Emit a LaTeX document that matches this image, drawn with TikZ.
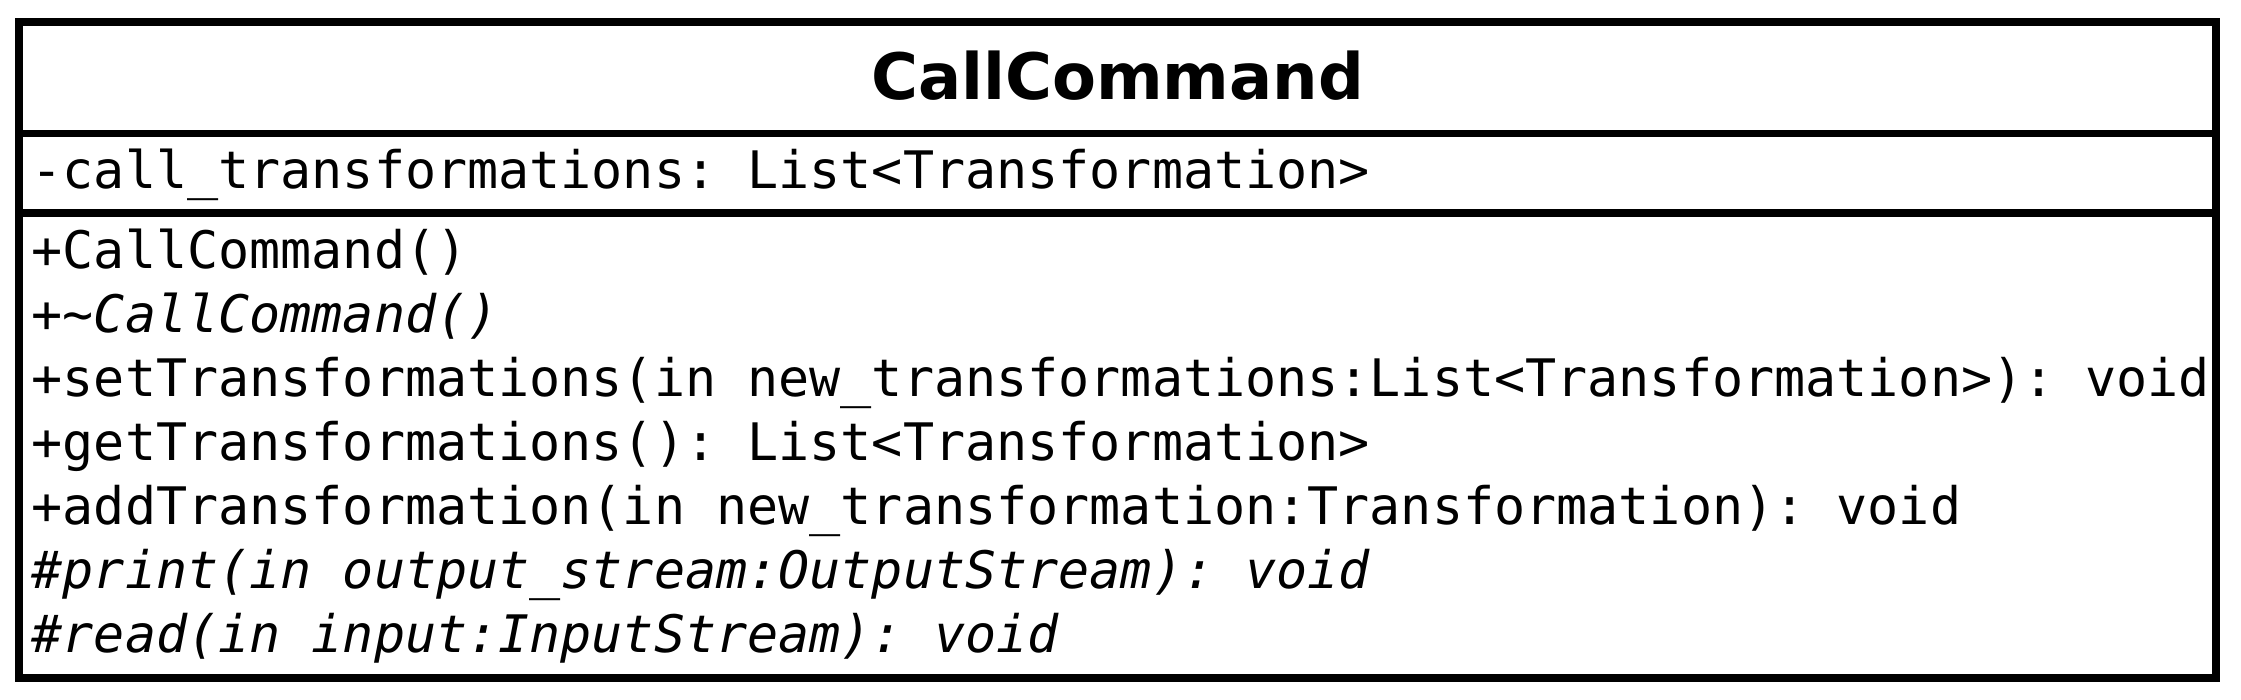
\documentclass[tikz,border=0pt]{standalone}
\usepackage{fontspec}
\setmonofont{DejaVu Sans Mono}
\newfontfamily\classfont{DejaVu Sans}
\usetikzlibrary{positioning}

\begin{document}
\begin{tikzpicture}[
    x=0.01cm, y=-0.01cm,
    umlline/.style={line width=2pt, black},
    classname/.style={inner sep=0pt, anchor=base, font=\classfont\bfseries\fontsize{18.2}{22}\selectfont},
    member/.style={inner sep=0pt, anchor=base west, font=\ttfamily\fontsize{14.7}{18}\selectfont},
    abstractmember/.style={member, font=\ttfamily\itshape\fontsize{14.7}{18}\selectfont}
]
\useasboundingbox (0,0) rectangle (2241,699);

% Class box and compartments
\coordinate (nw) at (19,22);
\coordinate (se) at (2216,678);
\coordinate (sepA west) at (19,133.5);
\coordinate (sepA east) at (2216,133.5);
\coordinate (sepB west) at (19,213);
\coordinate (sepB east) at (2216,213);
\draw[umlline] (nw) rectangle (se);
\draw[umlline] (sepA west) -- (sepA east);
\draw[umlline] (sepB west) -- (sepB east);

% Class name
\node[classname] (title) at (1117.5,99) {CallCommand};

% Attributes
\node[member] (attr) at (31,188) {-call\_transformations: List<Transformation>};

% Operations
\node[member] (ctor) at (31,268) {+CallCommand()};
\node[member] (dtor) at (31,332) {+\textasciitilde\textit{CallCommand()}};
\node[member] (setTr) at (31,396) {+setTransformations(in new\_transformations:List<Transformation>): void};
\node[member] (getTr) at (31,460) {+getTransformations(): List<Transformation>};
\node[member] (addTr) at (31,524) {+addTransformation(in new\_transformation:Transformation): void};
\node[abstractmember] (print) at (31,588) {\#print(in output\_stream:OutputStream): void};
\node[abstractmember] (read) at (31,652) {\#read(in input:InputStream): void};

\end{tikzpicture}
\end{document}
